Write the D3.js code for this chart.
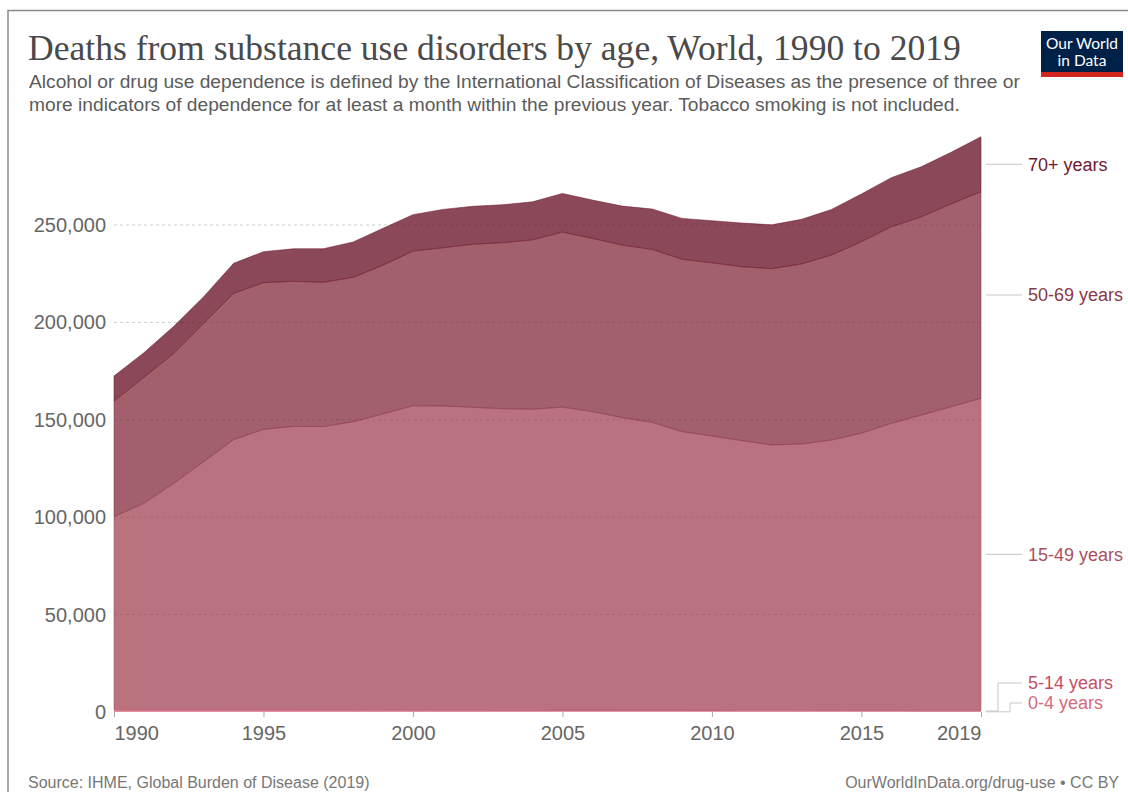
<!DOCTYPE html>
<html>
<head>
<meta charset="utf-8">
<script src="https://cdn.jsdelivr.net/npm/d3@7"></script>
<style>
  html, body { margin: 0; padding: 0; background: #fff; }
  svg { display: block; }
  text { font-family: "Liberation Sans", Arial, sans-serif; }
</style>
</head>
<body>
<svg id="chart" width="1128" height="792"></svg>
<script>
// ---------------- DATA ----------------
const years = [1990,1991,1992,1993,1994,1995,1996,1997,1998,1999,2000,2001,2002,2003,2004,
               2005,2006,2007,2008,2009,2010,2011,2012,2013,2014,2015,2016,2017,2018,2019];
const seriesNames = ["0-4 years", "5-14 years", "15-49 years", "50-69 years", "70+ years"];
const age0to4 = [430,425,410,400,392,380,371,362,350,341,333,320,312,300,291,
                 282,270,262,251,243,236,228,220,214,207,201,196,190,184,178];
const age5to14 = [980,975,960,950,940,925,910,900,890,880,870,860,845,830,820,
                  805,790,775,760,745,730,715,700,690,680,670,660,650,640,630];
const age15to49 = [98890,105700,116030,127150,138470,143800,145320,145240,147760,151780,156000,155920,155240,154570,154290,
                   155410,153140,150060,147690,142910,140730,138360,136180,136700,138710,142230,147340,151560,155880,160190];
const age50to69 = [59300,64700,66700,71000,75100,75300,74500,74100,74100,76400,79400,81200,83700,85200,87000,
                   89900,88900,88600,88800,88500,88900,89300,90500,92400,95000,98300,100900,101800,104100,106100];
const age70plus = [12900,12600,13900,13700,15400,15900,16700,17200,18200,18900,18700,19700,19500,19500,19500,
                   19800,19700,20000,20700,21000,21600,22400,22500,22900,23400,24500,25200,25700,26500,28200];
const yTickValues = [0, 50000, 100000, 150000, 200000, 250000];
const xTickValues = [1990, 1995, 2000, 2005, 2010, 2015, 2019];
const seriesColors = ["#d46a7e", "#c54f66", "#a9505e", "#893847", "#6d1a2f"];

const titleText = "Deaths from substance use disorders by age, World, 1990 to 2019";
const subtitleLines = [
  "Alcohol or drug use dependence is defined by the International Classification of Diseases as the presence of three or",
  "more indicators of dependence for at least a month within the previous year. Tobacco smoking is not included."
];
const sourceText = "Source: IHME, Global Burden of Disease (2019)";
const creditText = "OurWorldInData.org/drug-use • CC BY";

// ---------------- TABLE ----------------
const allSeries = [age0to4, age5to14, age15to49, age50to69, age70plus];
const table = years.map((yr, i) => {
  const row = { year: yr };
  seriesNames.forEach((k, j) => row[k] = allSeries[j][i]);
  return row;
});

const svg = d3.select("#chart");

// frame
svg.append("path").attr("d", "M8,792 L8,10.5 L1128,10.5")
  .attr("fill", "none").attr("stroke", "#8a8a8a").attr("stroke-width", 1.5);

function fitText(sel, width) {
  const node = sel.node();
  const fs = parseFloat(sel.attr("font-size"));
  const w = node.getComputedTextLength();
  sel.attr("font-size", (fs * width / w).toFixed(2));
}

// title
const title = svg.append("text").attr("x", 28).attr("y", 60)
  .attr("font-size", 33).attr("fill", "#4a4a4a").text(titleText)
  .style("font-family", "'Liberation Serif', 'DejaVu Serif', serif");
fitText(title, 933);

// subtitle
let subFs = 17.5;
subtitleLines.forEach((ln, i) => {
  const t = svg.append("text").attr("x", 29).attr("y", 88 + i * 23)
    .attr("font-size", subFs).attr("fill", "#5b5b5b").text(ln);
  if (i === 0) { fitText(t, 991); subFs = t.attr("font-size"); }
});

// logo
const logo = svg.append("g");
logo.append("rect").attr("x", 1041).attr("y", 31).attr("width", 82).attr("height", 46).attr("fill", "#002147");
logo.append("rect").attr("x", 1041).attr("y", 72).attr("width", 82).attr("height", 5).attr("fill", "#ce261e");
logo.append("text").attr("x", 1082).attr("y", 49).attr("text-anchor", "middle")
  .style("font-family", "Lato, 'Liberation Sans', sans-serif").attr("font-size", 15.5).attr("fill", "#fff").text("Our World");
logo.append("text").attr("x", 1082).attr("y", 66).attr("text-anchor", "middle")
  .style("font-family", "Lato, 'Liberation Sans', sans-serif").attr("font-size", 15.5).attr("fill", "#fff").text("in Data");

// ---------------- SCALES ----------------
const x = d3.scaleLinear().domain([1990, 2019]).range([114, 981]);
const y = d3.scaleLinear().domain([0, 300000]).range([712, 127.6]);

const stack = d3.stack().keys(seriesNames);
const layers = stack(table);

const area = d3.area()
  .x(d => x(d.data.year))
  .y0(d => y(d[0]))
  .y1(d => y(d[1]));

// y gridlines (under)
const gridG = svg.append("g");
yTickValues.filter(v => v > 0).forEach(v => {
  gridG.append("line").attr("x1", 114).attr("x2", 981).attr("y1", y(v)).attr("y2", y(v))
    .attr("stroke", "#dcdcdc").attr("stroke-dasharray", "3,3");
});

// areas
svg.append("g").selectAll("path").data(layers).join("path")
  .attr("d", area)
  .attr("fill", (d, i) => seriesColors[i])
  .attr("fill-opacity", 0.8)
  .attr("stroke", (d, i) => seriesColors[i])
  .attr("stroke-opacity", (d, i) => i < 2 ? 0 : 0.9)
  .attr("stroke-width", 0.6);

// gridlines faintly visible over the areas
const gridTop = svg.append("g");
yTickValues.filter(v => v > 0).forEach(v => {
  gridTop.append("line").attr("x1", 114).attr("x2", 981).attr("y1", y(v)).attr("y2", y(v))
    .attr("stroke", "#000").attr("stroke-opacity", 0.06).attr("stroke-dasharray", "3,3");
});

// y-axis labels
const yAxis = d3.axisLeft(y).tickValues(yTickValues).tickSize(0).tickPadding(8)
  .tickFormat(d3.format(","));
const yG = svg.append("g").attr("transform", "translate(114,0)").call(yAxis);
yG.select(".domain").remove();
yG.selectAll("text").attr("font-size", 20).attr("fill", "#666")
  .attr("font-family", "'Liberation Sans', Arial, sans-serif");

// x-axis
const xAxis = d3.axisBottom(x).tickValues(xTickValues).tickSize(5).tickPadding(9)
  .tickFormat(d3.format("d"));
const xG = svg.append("g").attr("transform", "translate(0,712)").call(xAxis);
xG.select(".domain").remove();
xG.selectAll("line").attr("stroke", "#aaa");
xG.selectAll("text").attr("font-size", 20).attr("fill", "#666")
  .attr("font-family", "'Liberation Sans', Arial, sans-serif")
  .attr("text-anchor", d => d === 1990 ? "start" : (d === 2019 ? "end" : "middle"));

// ---------------- LABELS ----------------
const last = layers.map(l => l[l.length - 1]);
const labelTargets = last.map(d => (y(d[0]) + y(d[1])) / 2);
const labelY = [];
const bottomLimit = y(0) - 9;
const minGap = 20;
for (let i = 0; i < labelTargets.length; i++) {
  let ty = Math.min(labelTargets[i], bottomLimit);
  if (i > 0 && labelY[i - 1] - ty < minGap) ty = labelY[i - 1] - minGap;
  labelY.push(ty);
}
const kinkX = [1010, 998, null, null, null];
const lg = svg.append("g");
seriesNames.forEach((name, i) => {
  const ty = labelTargets[i], ly = labelY[i];
  let d;
  if (Math.abs(ty - ly) < 0.5) {
    d = `M986,${ly} L1022,${ly}`;
  } else {
    const kx = kinkX[i] || 1004;
    d = `M986,${ty} L${kx},${ty} L${kx},${ly} L1022,${ly}`;
  }
  lg.append("path").attr("d", d).attr("fill", "none").attr("stroke", "#c8c8c8").attr("stroke-width", 1);
  lg.append("text").attr("x", 1028).attr("y", ly).attr("dy", "0.35em")
    .attr("font-size", 18).attr("fill", seriesColors[i]).text(name);
});

// ---------------- FOOTER ----------------
svg.append("text").attr("x", 28).attr("y", 788).attr("font-size", 16).attr("fill", "#777").text(sourceText);
svg.append("text").attr("x", 1119).attr("y", 788).attr("text-anchor", "end")
  .attr("font-size", 16).attr("fill", "#777").text(creditText);
</script>
</body>
</html>
